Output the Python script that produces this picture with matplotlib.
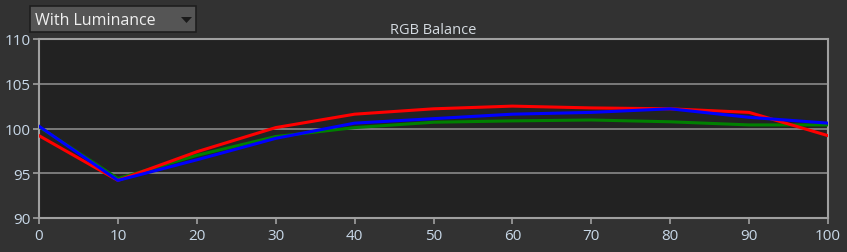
import matplotlib
matplotlib.use("Agg")
import matplotlib.pyplot as plt
from matplotlib.patches import FancyBboxPatch, Polygon

x = [0, 10, 20, 30, 40, 50, 60, 70, 80, 90, 100]
red = [99.2, 94.2, 97.4, 100.1, 101.6, 102.2, 102.5, 102.3, 102.2, 101.8, 99.2]
green = [100.2, 94.4, 97.0, 99.1, 100.1, 100.7, 100.85, 100.95, 100.75, 100.4, 100.4]
blue = [100.25, 94.2, 96.5, 98.9, 100.6, 101.1, 101.6, 101.8, 102.2, 101.25, 100.6]
xticks = [0, 10, 20, 30, 40, 50, 60, 70, 80, 90, 100]
yticks = [90, 95, 100, 105, 110]

plt.rcParams['font.family'] = ['Open Sans', 'DejaVu Sans']

fig = plt.figure(figsize=(8.47, 2.53), dpi=100, facecolor='#323232')
ax = fig.add_axes([39/847, 1-219/253, (828-39)/847, (219-40)/253])
ax.set_facecolor('#222222')

ax.plot(x, green, color='#008000', lw=2.2, zorder=3)
ax.plot(x, red, color='#ff0000', lw=2.2, zorder=4)
ax.plot(x, blue, color='#0000ff', lw=2.2, zorder=5)

ax.set_xlim(0, 100)
ax.set_ylim(90, 110)
ax.set_xticks(xticks)
ax.set_yticks(yticks)
ax.grid(axis='y', color='#8a8a8a', lw=1.2)
for s in ax.spines.values():
    s.set_color('#a0a0a0')
    s.set_linewidth(1.5)
ax.tick_params(colors='#a0a0a0', labelcolor='#c8d8e8', labelsize=11, length=4, width=1.2, pad=2)
ax.tick_params(axis='x', pad=3)

ax.set_title('RGB Balance', color='#d4dae0', fontsize=10.5, pad=4)

# dropdown box
box = FancyBboxPatch((30/847, 1-33/253), 166/847, 26/253, boxstyle='square,pad=0',
                     transform=fig.transFigure, facecolor='#555555', edgecolor='#1e1e1e', lw=1.2)
fig.patches.append(box)
fig.text(35/847, 1-21/253, 'With Luminance', color='#f0f0f0', fontsize=11.5, va='center', ha='left')
tri = Polygon([[181/847, 1-18/253], [192/847, 1-18/253], [186.5/847, 1-24/253]], closed=True,
              transform=fig.transFigure, facecolor='#1a1a1a', edgecolor='none')
fig.patches.append(tri)

fig.savefig('out.png', dpi=100, facecolor=fig.get_facecolor())
